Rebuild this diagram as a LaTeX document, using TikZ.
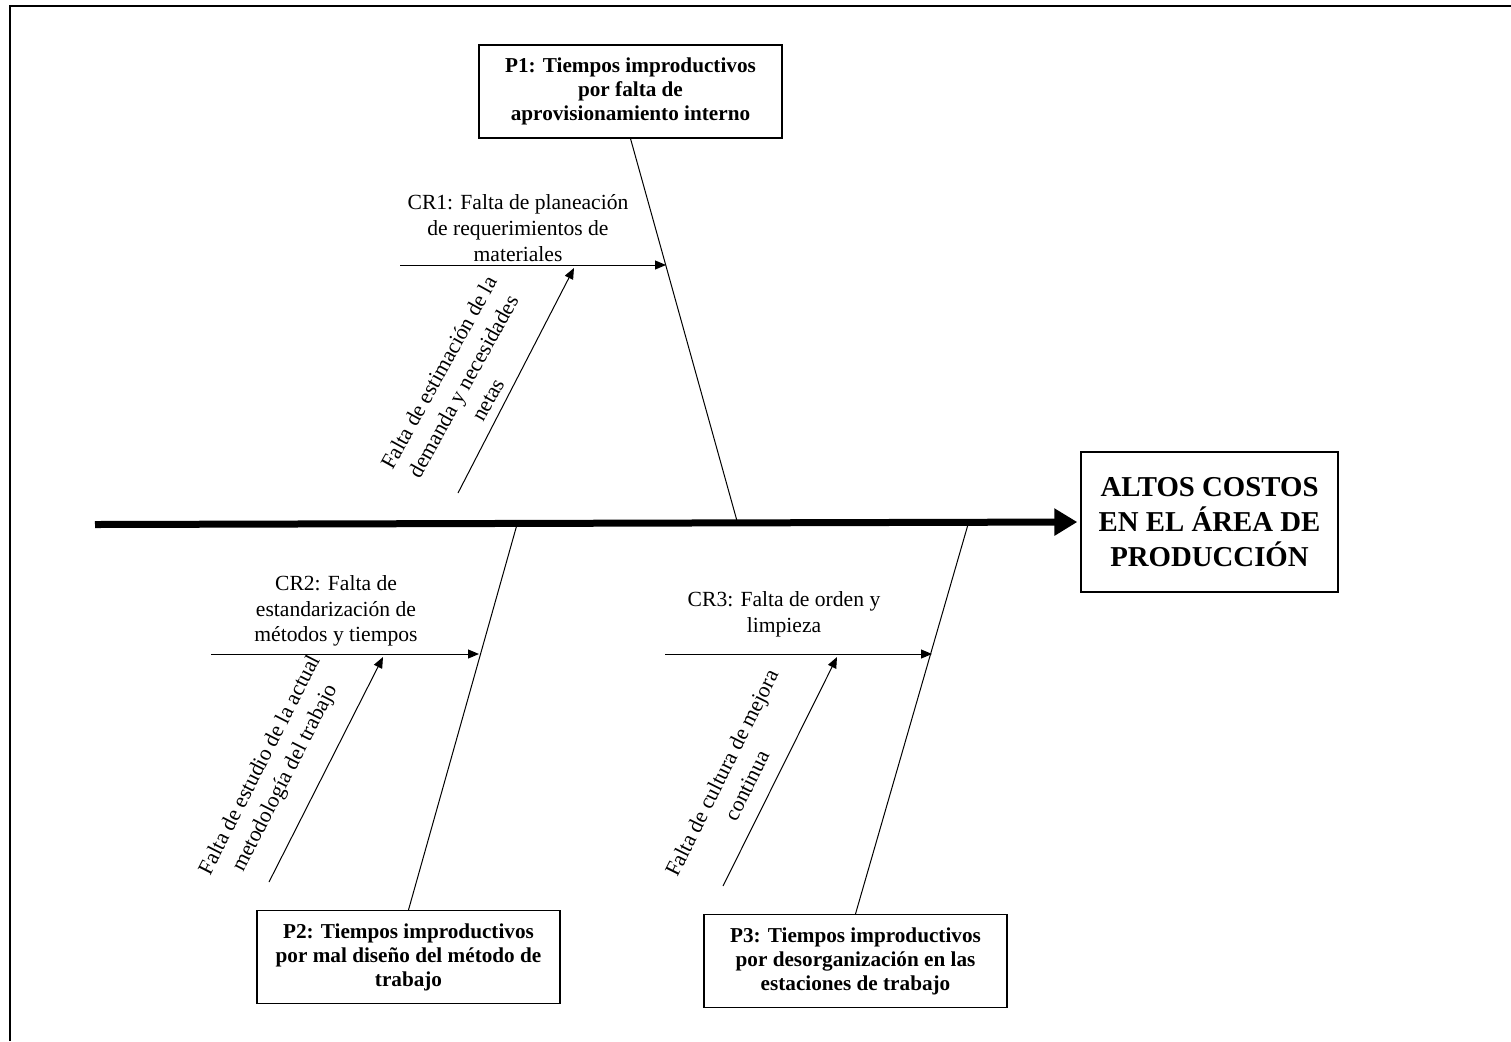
\documentclass[tikz,border=0pt]{standalone}
\usepackage{fontspec}
\setmainfont{Liberation Serif}
\usetikzlibrary{arrows.meta}

\begin{document}
\begin{tikzpicture}[x=0.5pt,y=-0.5pt,
  problem/.style={draw=black,line width=0.6pt,inner sep=0pt,minimum width=151.5pt,
    minimum height=46.5pt,align=center,font=\fontsize{10.6}{12}\selectfont\bfseries},
  effectbox/.style={draw=black,line width=0.7pt,inner sep=0pt,minimum width=128.5pt,
    minimum height=70pt,align=center,font=\fontsize{14.4}{17.5}\selectfont\bfseries},
  causetext/.style={inner sep=0pt,align=center,font=\fontsize{10.8}{12.8}\selectfont},
  roottext/.style={inner sep=0pt,align=center,font=\fontsize{10.9}{14}\selectfont},
  bone/.style={line width=0.5pt},
  branch/.style={line width=0.5pt,-{Triangle[length=5.5pt,width=4.5pt]}},
  spine/.style={line width=3.5pt,-{Triangle[length=11.5pt,width=13pt]}}
]
\useasboundingbox (0,0) rectangle (1511,1041);

% page frame (left and top edges)
\draw[line width=1pt] (10,1041) -- (10,6) -- (1511,6);

% effect
\node[effectbox] (effect) at (1209.5,522) {ALTOS COSTOS\\EN EL ÁREA DE\\PRODUCCIÓN};

% main spine
\coordinate (tail) at (95,524.5);
\draw[spine,shorten >=1.5pt] (tail) -- (effect.west);

% problem boxes
\node[problem] (p1) at (630.5,91.5) {P1: Tiempos improductivos\\por falta de\\aprovisionamiento interno};
\node[problem] (p2) at (408.5,957) {P2: Tiempos improductivos\\por mal diseño del método de\\trabajo};
\node[problem] (p3) at (855.5,961) {P3: Tiempos improductivos\\por desorganización en las\\estaciones de trabajo};

% joints on the spine
\coordinate (j1) at (738,524.5);
\coordinate (j2) at (517,524.5);
\coordinate (j3) at (968,524.5);

% main bones
\draw[bone] (p1.south) -- (j1);
\draw[bone] (j2) -- (p2.north);
\draw[bone] (j3) -- (p3.north);

% causes on the bones
\coordinate (c1a) at (400,265);
\coordinate (c1b) at (666,265);
\coordinate (c2a) at (211,654);
\coordinate (c2b) at (479,654);
\coordinate (c3a) at (665,654);
\coordinate (c3b) at (932,654);
\draw[branch] (c1a) -- (c1b);
\draw[branch] (c2a) -- (c2b);
\draw[branch] (c3a) -- (c3b);

\node[causetext] (cr1) at (518,228) {CR1: Falta de planeación\\de requerimientos de\\materiales};
\node[causetext] (cr2) at (336,611) {CR2: Falta de\\estandarización de\\métodos y tiempos};
\node[causetext] (cr3) at (784,614) {CR3: Falta de orden y\\limpieza};

% root causes
\coordinate (r1a) at (458,493);
\coordinate (r1b) at (574,268);
\coordinate (r2a) at (269,882);
\coordinate (r2b) at (383,657);
\coordinate (r3a) at (723,886);
\coordinate (r3b) at (837,657);
\draw[branch] (r1a) -- (r1b);
\draw[branch] (r2a) -- (r2b);
\draw[branch] (r3a) -- (r3b);

\node[roottext,rotate=61] (rc1) at (463,386) {Falta de estimación de la\\demanda y necesidades\\netas};
\node[roottext,rotate=63] (rc2) at (273,772) {Falta de estudio de la actual\\metodología del trabajo};
\node[roottext,rotate=63.5] (rc3) at (734,779) {Falta de cultura de mejora\\continua};
\end{tikzpicture}
\end{document}
